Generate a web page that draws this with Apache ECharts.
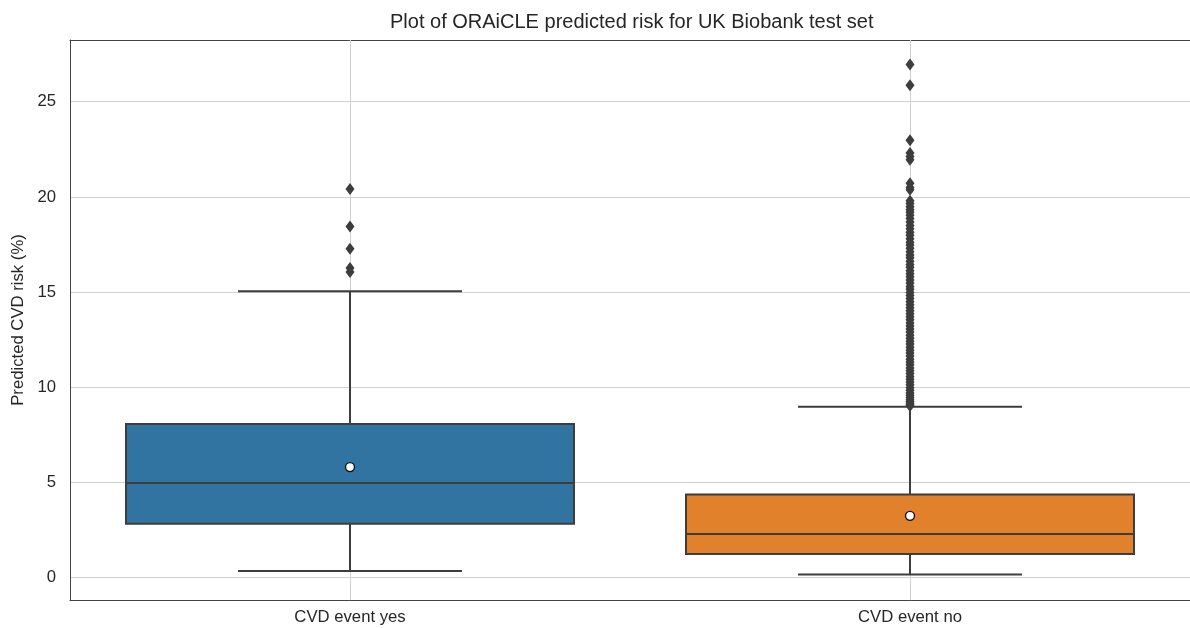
<!DOCTYPE html>
<html>
<head>
<meta charset="utf-8">
<script src="https://cdn.jsdelivr.net/npm/echarts@6/dist/echarts.min.js"></script>
<style>html,body{margin:0;padding:0;background:#fff;}#c{width:1190px;height:628px;}</style>
</head>
<body>
<div id="c"></div>
<script>
var categories = ['CVD event yes', 'CVD event no'];
// [min whisker, Q1, median, Q3, max whisker]
var boxYes = [0.35, 2.83, 4.98, 8.07, 15.05];
var boxNo = [0.17, 1.25, 2.30, 4.37, 8.98];
var means = [5.81, 3.25];
var outliersYes = [20.42, 18.44, 17.28, 16.26, 16.05];
var outliersNo = [26.95, 25.86, 22.98, 22.3, 22.12, 21.95, 20.72, 20.5, 20.38,
  19.8, 19.65, 19.48, 19.33, 19.2, 19.04, 18.86, 18.68, 18.5, 18.33, 18.15, 17.98,
  17.8, 17.62, 17.47, 17.3, 17.12, 16.95, 16.8, 16.62, 16.45, 16.3, 16.12, 15.96,
  15.8, 15.63, 15.48, 15.3, 15.15, 14.98, 14.82, 14.66, 14.5, 14.33, 14.18, 14.02,
  13.86, 13.7, 13.55, 13.38, 13.22, 13.06, 12.9, 12.74, 12.58, 12.42, 12.27, 12.1,
  11.95, 11.8, 11.64, 11.48, 11.33, 11.18, 11.02, 10.87, 10.72, 10.57, 10.42, 10.28,
  10.13, 9.98, 9.84, 9.7, 9.58, 9.46, 9.35, 9.25, 9.16, 9.08, 9.02];
var yMin = -1.17, yMax = 28.24;

var boxColors = ['#3274a1', '#e1812c'];
var edge = '#3d3d3d';
var font = 'Liberation Sans, Arial, sans-serif';

var chart = echarts.init(document.getElementById('c'));
var boxData = [[0].concat(boxYes), [1].concat(boxNo)];

chart.setOption({
  animation: false,
  backgroundColor: '#fff',
  title: {
    text: 'Plot of ORAiCLE predicted risk for UK Biobank test set',
    left: 390, top: 12, padding: 0,
    textStyle: {fontFamily: font, fontSize: 20, fontWeight: 'normal', color: '#262626'}
  },
  grid: {left: 70, right: 0, top: 40, bottom: 28, show: false},
  xAxis: [{
    type: 'category', data: categories, boundaryGap: true, position: 'bottom',
    axisLine: {show: true, onZero: false, lineStyle: {color: '#444', width: 1}},
    axisTick: {show: false},
    splitLine: {show: false},
    axisLabel: {fontFamily: font, fontSize: 16.7, color: '#262626', margin: 9}
  }, {
    type: 'category', data: categories, boundaryGap: true, position: 'top',
    axisLine: {show: true, onZero: false, lineStyle: {color: '#444', width: 1}},
    axisTick: {show: false},
    splitLine: {show: false},
    axisLabel: {show: false}
  }],
  yAxis: {
    type: 'value', min: yMin, max: yMax,
    name: 'Predicted CVD risk (%)', nameLocation: 'middle', nameGap: 38, nameRotate: 90,
    nameTextStyle: {fontFamily: font, fontSize: 16.7, color: '#262626'},
    axisLine: {show: true, lineStyle: {color: '#444', width: 1}},
    axisTick: {show: false},
    splitLine: {show: true, lineStyle: {color: '#d0d0d0', width: 1}},
    axisLabel: {fontFamily: font, fontSize: 16.7, color: '#262626', margin: 14, showMinLabel: false, showMaxLabel: false}
  },
  series: [
    {
      type: 'custom', z: 2,
      data: boxData,
      encode: {x: 0, y: [1, 2, 3, 4, 5]},
      renderItem: function (params, api) {
        var x = api.value(0);
        var pMin = api.coord([x, api.value(1)]);
        var pQ1 = api.coord([x, api.value(2)]);
        var pMed = api.coord([x, api.value(3)]);
        var pQ3 = api.coord([x, api.value(4)]);
        var pMax = api.coord([x, api.value(5)]);
        var bw = api.size([1, 0])[0] * 0.8;
        var cx = pMed[0];
        var ls = {stroke: edge, lineWidth: 2};
        return {
          type: 'group',
          children: [
            {type: 'line', shape: {x1: cx, y1: pQ1[1], x2: cx, y2: pMin[1]}, style: ls},
            {type: 'line', shape: {x1: cx, y1: pQ3[1], x2: cx, y2: pMax[1]}, style: ls},
            {type: 'line', shape: {x1: cx - bw / 4, y1: pMin[1], x2: cx + bw / 4, y2: pMin[1]}, style: ls},
            {type: 'line', shape: {x1: cx - bw / 4, y1: pMax[1], x2: cx + bw / 4, y2: pMax[1]}, style: ls},
            {type: 'rect', shape: {x: cx - bw / 2, y: pQ3[1], width: bw, height: pQ1[1] - pQ3[1]},
              style: {fill: boxColors[params.dataIndex], stroke: edge, lineWidth: 2}},
            {type: 'line', shape: {x1: cx - bw / 2, y1: pMed[1], x2: cx + bw / 2, y2: pMed[1]}, style: ls}
          ]
        };
      },
      markLine: {
        z: 1, silent: true, symbol: 'none', label: {show: false},
        lineStyle: {color: '#d0d0d0', width: 1, type: 'solid'},
        data: [{xAxis: categories[0]}, {xAxis: categories[1]}]
      }
    },
    {
      type: 'scatter', z: 3, symbol: 'diamond', symbolSize: [9, 12],
      itemStyle: {color: edge, opacity: 1},
      data: outliersYes.map(function (v) { return [0, v]; })
    },
    {
      type: 'scatter', z: 3, symbol: 'diamond', symbolSize: [9, 12],
      itemStyle: {color: edge, opacity: 1},
      data: outliersNo.map(function (v) { return [1, v]; })
    },
    {
      type: 'scatter', z: 4, symbol: 'circle', symbolSize: 9,
      itemStyle: {color: '#fff', borderColor: '#111', borderWidth: 1.4, opacity: 1},
      data: means.map(function (v, i) { return [i, v]; })
    }
  ]
});
</script>
</body>
</html>
